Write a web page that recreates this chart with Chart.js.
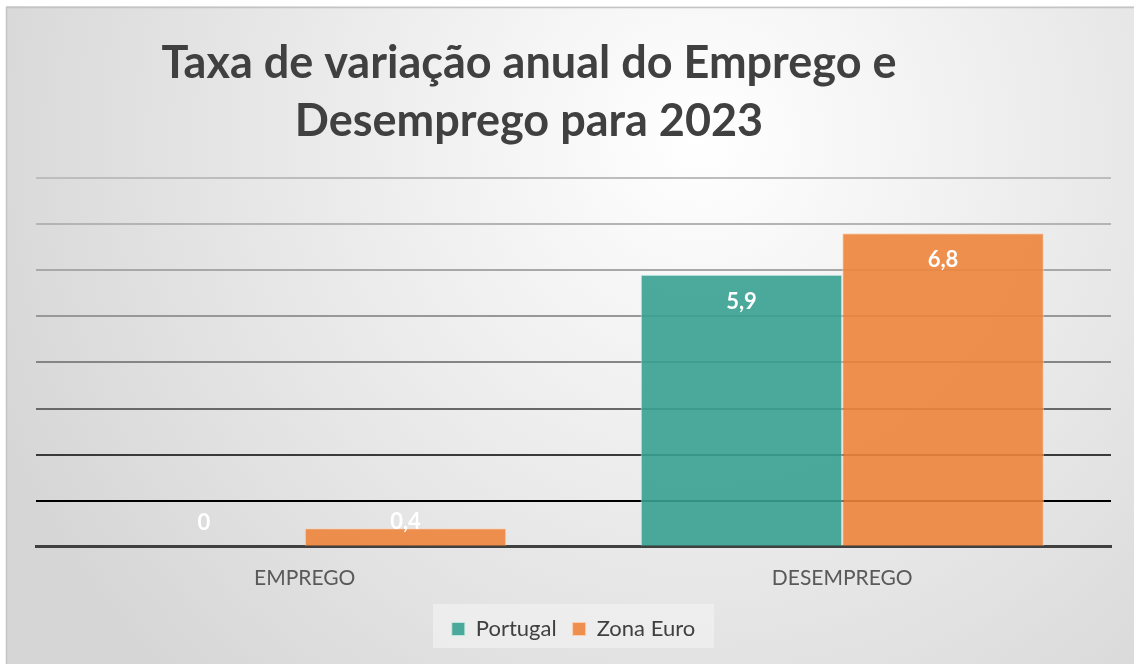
<!DOCTYPE html>
<html>
<head>
<meta charset="utf-8">
<script src="https://cdn.jsdelivr.net/npm/chart.js@4"></script>
<style>
  html, body { margin: 0; padding: 0; background: #fff; }
  #wrap { width: 1134px; height: 664px; }
</style>
</head>
<body>
<div id="wrap"><canvas id="myChart" width="1134" height="664"></canvas></div>
<script>
'use strict';

const categories = ['EMPREGO', 'DESEMPREGO'];
const portugal = [0, 5.9];
const zonaEuro = [0.4, 6.8];
const titleLines = ['Taxa de variação anual do Emprego e', 'Desemprego para 2023'];

// gridline colours from the axis (0) up to the top line (8)
const gridColors = ['#000000', '#000000', '#3a3a3a', '#686868', '#858585', '#989898', '#a8a8a8', '#b4b4b4', '#bdbdbd'];

const bgPlugin = {
  id: 'bgPlugin',
  beforeDraw(chart) {
    const ctx = chart.ctx;
    const w = chart.width, h = chart.height;
    ctx.save();
    const g = ctx.createRadialGradient(700, 140, 0, 700, 140, 760);
    g.addColorStop(0, '#ffffff');
    g.addColorStop(1, '#d6d6d6');
    ctx.fillStyle = g;
    ctx.fillRect(0, 0, w, h);
    ctx.fillStyle = '#ffffff';
    ctx.fillRect(0, 0, w, 6);
    ctx.fillRect(0, 0, 6, h);
    ctx.strokeStyle = '#c4c4c4';
    ctx.lineWidth = 1.5;
    ctx.strokeRect(6.5, 7.5, w + 10, h + 10);

    // title
    ctx.fillStyle = '#404040';
    ctx.font = 'bold 45px Lato';
    ctx.textAlign = 'center';
    ctx.textBaseline = 'middle';
    ctx.fillText(titleLines[0], 529, 63);
    ctx.fillText(titleLines[1], 529, 121);

    // legend background
    const lg = chart.legend;
    if (lg) {
      ctx.fillStyle = 'rgba(240,240,240,0.75)';
      ctx.fillRect(433, lg.top + 2, 281, lg.height - 4);
    }
    ctx.restore();
  }
};

const labelPlugin = {
  id: 'labelPlugin',
  afterDatasetsDraw(chart) {
    const ctx = chart.ctx;
    ctx.save();
    ctx.fillStyle = '#ffffff';
    ctx.font = 'bold 22px Lato';
    ctx.textAlign = 'center';
    ctx.textBaseline = 'middle';
    chart.data.datasets.forEach((ds, i) => {
      chart.getDatasetMeta(i).data.forEach((bar, j) => {
        const y = Math.min(bar.y + 27, bar.base - 24);
        ctx.fillText(String(ds.data[j]).replace('.', ','), bar.x, y);
      });
    });
    ctx.restore();
  }
};

const data = {
  labels: categories,
  datasets: [{
    label: 'Portugal',
    data: portugal,
    backgroundColor: 'rgba(57,161,146,0.9)',
    borderColor: 'rgba(200,235,228,0.8)',
    borderWidth: 1
  }, {
    label: 'Zona Euro',
    data: zonaEuro,
    backgroundColor: 'rgba(237,132,59,0.9)',
    borderColor: 'rgba(252,210,180,0.8)',
    borderWidth: 1
  }]
};

const config = {
  type: 'bar',
  data: data,
  options: {
    responsive: false,
    animation: false,
    layout: { padding: { left: 36, right: 23, top: 178, bottom: 14 } },
    datasets: { bar: { categoryPercentage: 0.75, barPercentage: 1 } },
    scales: {
      x: {
        grid: { display: false },
        border: { display: true, color: '#404040', width: 3 },
        ticks: { color: '#595959', font: { family: 'Lato', size: 21 }, padding: 11 }
      },
      y: {
        min: 0,
        max: 8,
        ticks: { display: false, stepSize: 1 },
        border: { display: false },
        grid: {
          drawTicks: false,
          lineWidth: 2,
          color: (c) => gridColors[c.index] || '#000'
        }
      }
    },
    plugins: {
      legend: {
        position: 'bottom',
        labels: {
          color: '#404040',
          font: { family: 'Lato', size: 22 },
          boxWidth: 13,
          boxHeight: 13,
          padding: 16
        }
      },
      tooltip: { enabled: false }
    }
  },
  plugins: [bgPlugin, labelPlugin]
};

const myChart = new Chart(document.getElementById('myChart'), config);
</script>
</body>
</html>
